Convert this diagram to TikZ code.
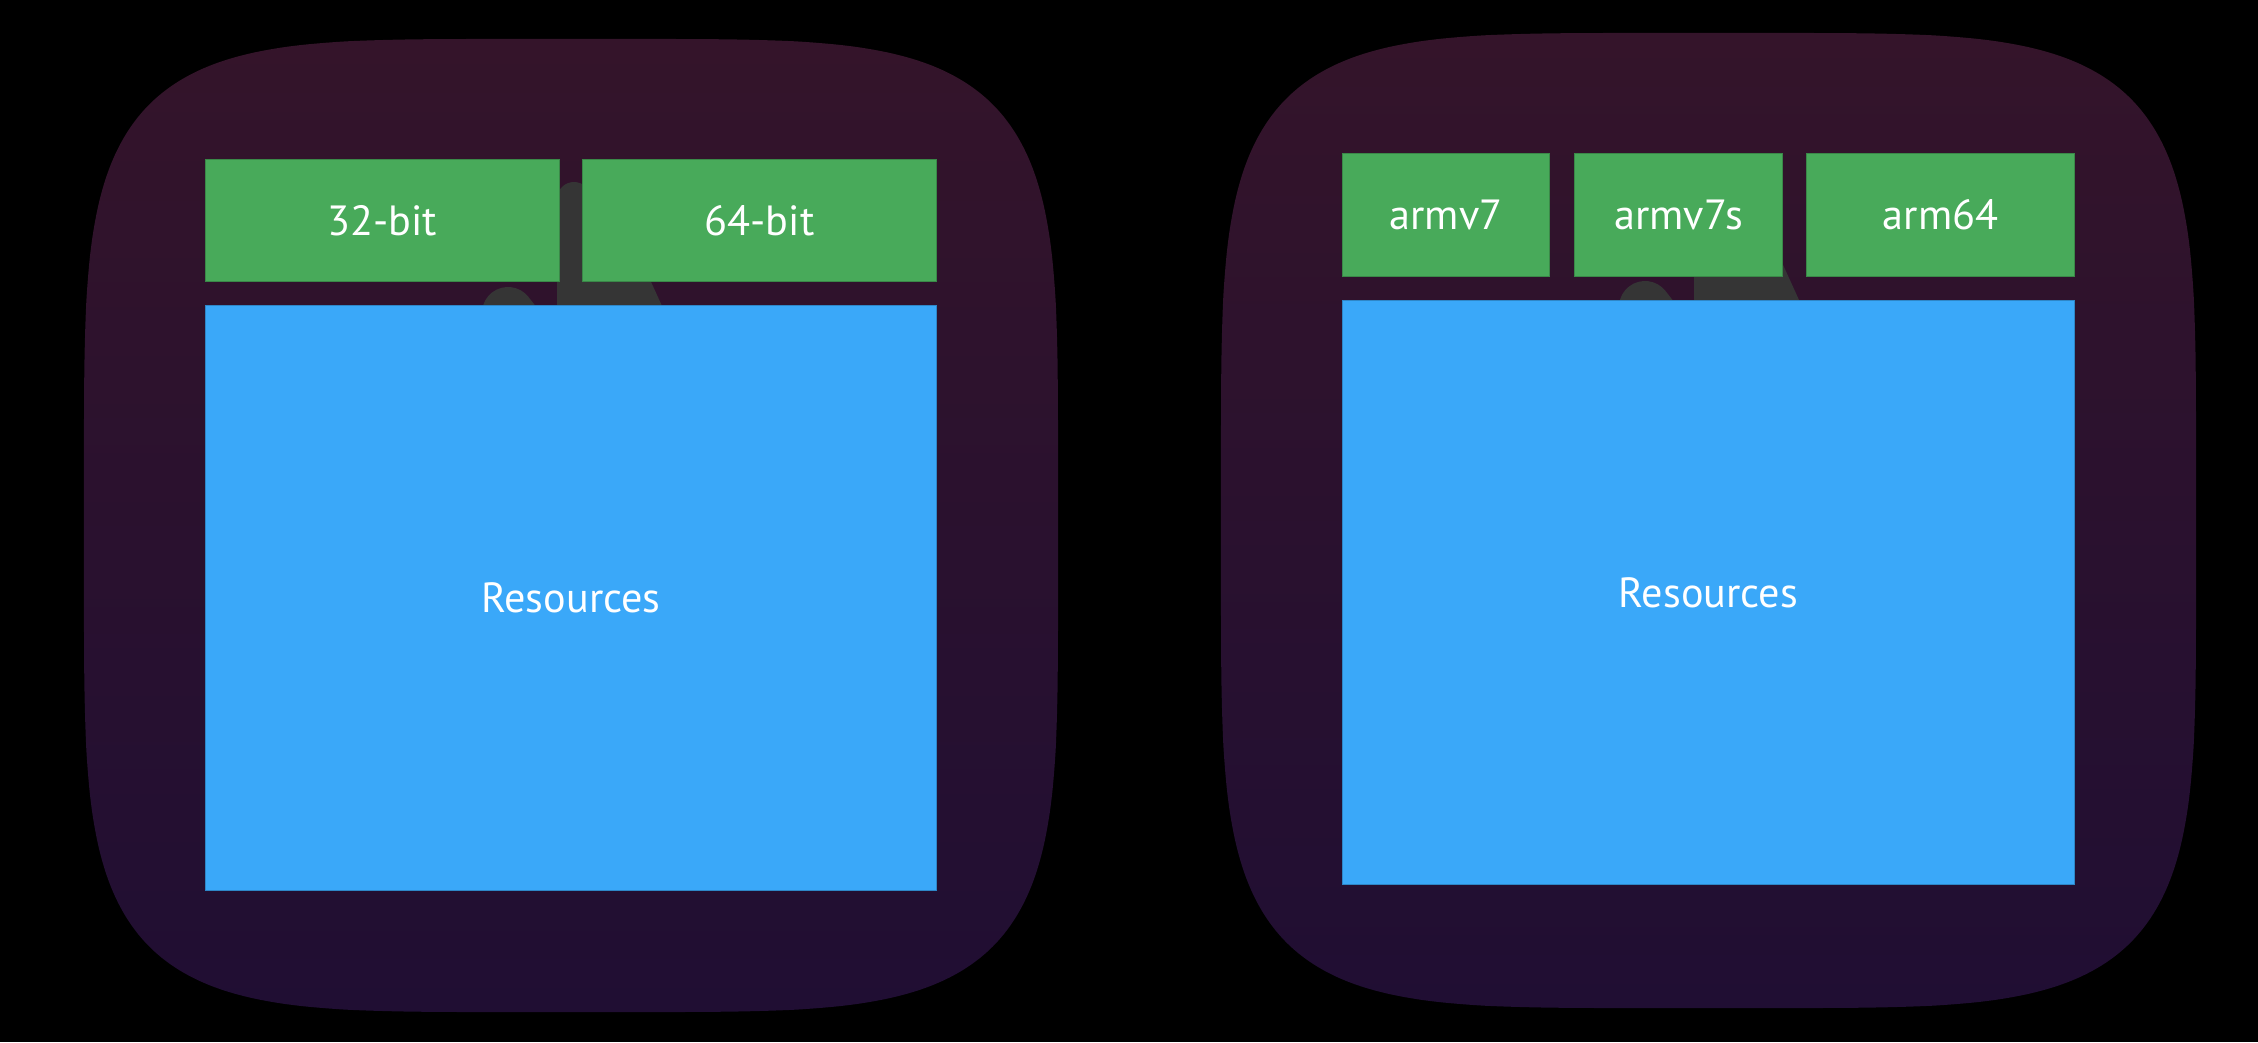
\documentclass[tikz,border=0pt]{standalone}
\usepackage{fontspec}
\setmainfont{PT Sans}
\definecolor{panelTop}{HTML}{34142A}
\definecolor{panelBot}{HTML}{200E33}
\definecolor{sliceGreen}{HTML}{48AA5A}
\definecolor{resBlue}{HTML}{3AA8F9}
\definecolor{handGray}{HTML}{353535}
\tikzset{
  slice/.style={fill=sliceGreen, draw=sliceGreen!80!black, line width=0.3pt, text=white,
    minimum height=1.21cm, inner sep=0pt, font=\fontsize{12}{14}\selectfont},
  resbox/.style={fill=resBlue, draw=resBlue!80!black, line width=0.3pt, text=white,
    minimum width=7.30cm, minimum height=5.84cm, inner sep=0pt, font=\fontsize{12}{14}\selectfont},
}
\begin{document}
\begin{tikzpicture}[x=0.01cm, y=-0.01cm]
	\fill[black] (0,0) rectangle (2258,1042);
	\useasboundingbox (0,0) rectangle (2258,1042);
	% icon outlines
	\foreach \cx/\cy/\rx/\ry in {571/525.5/487/486.5, 1708.5/520.5/487.5/487.5}
		\shade[top color=panelTop, bottom color=panelBot] plot[domain=1.25:358.75, samples=144, smooth]
			({\cx+\rx*sign(cos(\x))*pow(abs(cos(\x)),0.4167)}, {\cy+\ry*sign(sin(\x))*pow(abs(sin(\x)),0.4167)}) -- cycle;
	% hand behind the slices
	\foreach \dx/\dy in {0/0, 1137/-6} {
		\begin{scope}[shift={(\dx,\dy)}]
			\fill[handGray] (562,240) -- (632,240) -- (682,350) -- (562,350) -- cycle;
			\draw[handGray, line width=0.34cm, line cap=round] (574,199) -- (574,330);
			\draw[handGray, line width=0.52cm, line cap=round] (508,313) -- (560,380);
		\end{scope}
	}
	% left: 32/64-bit
	\node[slice, minimum width=3.53cm] (bitA) at (382.5,220.5) {32-bit};
	\node[slice, minimum width=3.53cm] (bitB) at (759.5,220.5) {64-bit};
	\node[resbox] (resL) at (571,598) {Resources};
	% right: armv7 / armv7s / arm64
	\node[slice, minimum width=2.06cm, minimum height=1.22cm] (armA) at (1446,215) {armv7};
	\node[slice, minimum width=2.07cm, minimum height=1.22cm] (armB) at (1678.5,215) {armv7s};
	\node[slice, minimum width=2.67cm, minimum height=1.22cm] (armC) at (1940.5,215) {arm64};
	\node[resbox, minimum width=7.31cm, minimum height=5.83cm] (resR) at (1708.5,592.5) {Resources};
\end{tikzpicture}
\end{document}
